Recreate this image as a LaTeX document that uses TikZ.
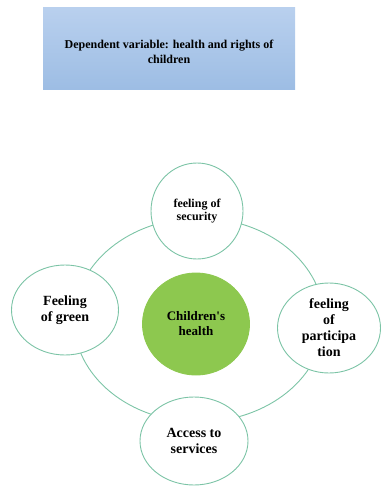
\documentclass[tikz,border=0pt]{standalone}
\usepackage{fontspec}
\setmainfont{Liberation Serif}
\usetikzlibrary{shapes.geometric}
\definecolor{ringteal}{HTML}{7CC4A6}
\definecolor{hubgreen}{HTML}{8DC84F}
\definecolor{boxtop}{HTML}{B9D0EE}
\definecolor{boxbot}{HTML}{9DBDE4}
\tikzset{
  factor/.style={ellipse, draw=ringteal, line width=0.9pt, fill=white, inner sep=0pt, align=center, font=\bfseries\fontsize{14}{16}\selectfont},
  hub/.style={factor, draw=hubgreen, fill=hubgreen, font=\bfseries\fontsize{13}{15}\selectfont}
}

\begin{document}
\begin{tikzpicture}[x=1pt, y=-1pt]
			%%%%% START %%%%%
			\useasboundingbox (0, 0) rectangle (382, 487);
			
			% heading box
			\shade[top color=boxtop, bottom color=boxbot] (43, 8) rectangle (295, 89);
			\node[align=center, font=\bfseries\fontsize{12}{15}\selectfont] (heading) at (169, 52) {Dependent variable: health and rights of\\children};
			
			% ring behind the circles
			\draw[ringteal, line width=0.9pt] (199, 320) ellipse (125 and 102);
			
			\node[hub, minimum width=107, minimum height=102] (health) at (196, 324) {Children\textquotesingle s\\health};
			
			\node[factor, minimum width=92, minimum height=96, font=\bfseries\fontsize{12}{13.5}\selectfont] (security) at (197, 211) {feeling of\\security};
			\node[factor, minimum width=107, minimum height=90] (green) at (65, 310) {Feeling\\of green};
			\node[factor, minimum width=103, minimum height=90] (participation) at (329, 328) {feeling\\of\\participa\\tion};
			\node[factor, minimum width=108, minimum height=88] (services) at (194, 441) {Access to\\services};
			
			%%%%% END %%%%%
\end{tikzpicture}
\end{document}
